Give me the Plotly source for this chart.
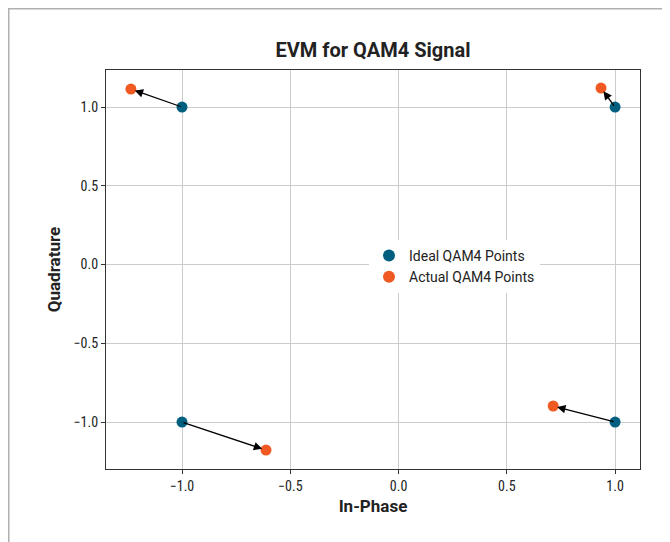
import plotly.graph_objects as go

ideal_i = [1.0, -1.0, -1.0, 1.0]
ideal_q = [1.0, 1.0, -1.0, -1.0]
actual_i = [0.935, -1.236, -0.612, 0.714]
actual_q = [1.12, 1.114, -1.178, -0.898]

title = "EVM for QAM4 Signal"
x_label = "In-Phase"
y_label = "Quadrature"
x_ticks = [-1.0, -0.5, 0.0, 0.5, 1.0]
y_ticks = [-1.0, -0.5, 0.0, 0.5, 1.0]

W, H = 670, 542
L, R, T, B = 98, 38, 62, 81
pw, ph = W - L - R, H - T - B

fig = go.Figure()
fig.add_trace(go.Scatter(x=ideal_i, y=ideal_q, mode="markers", name="Ideal QAM4 Points",
                         marker=dict(color="#005f7f", size=11)))
fig.add_trace(go.Scatter(x=actual_i, y=actual_q, mode="markers", name="Actual QAM4 Points",
                         marker=dict(color="#f05a22", size=11)))

annotations = []
for xi, yi, xa, ya in zip(ideal_i, ideal_q, actual_i, actual_q):
    annotations.append(dict(x=xa, y=ya, ax=xi, ay=yi, xref="x", yref="y", axref="x", ayref="y",
                            showarrow=True, arrowhead=2, arrowsize=1.3, arrowwidth=1.3,
                            arrowcolor="black", standoff=4, text=""))

def px(x):
    return (x - L) / pw

def py(y):
    return (H - B - y) / ph

shapes = [
    dict(type="line", xref="paper", yref="paper", x0=px(0), x1=px(W), y0=py(0.75), y1=py(0.75),
         line=dict(color="#b0b0b0", width=1.5)),
    dict(type="line", xref="paper", yref="paper", x0=px(0.75), x1=px(0.75), y0=py(0), y1=py(H),
         line=dict(color="#b0b0b0", width=1.5)),
]

fmt = lambda v: f"{v:.1f}".replace("-", "\u2212")

fig.update_layout(
    width=W, height=H,
    margin=dict(l=L, r=R, t=T, b=B),
    paper_bgcolor="white", plot_bgcolor="white",
    font=dict(family="Roboto Condensed, Roboto, sans-serif", size=14, color="#222"),
    title=dict(text="<b>" + title + "</b>", x=0.5, xref="paper", xanchor="center",
               y=1 - 42 / H, yanchor="middle",
               font=dict(family="Roboto, sans-serif", size=20, color="#222")),
    xaxis=dict(range=[-1.351, 1.115], tickvals=x_ticks, ticktext=[fmt(v) for v in x_ticks],
               showgrid=True, gridcolor="#cccccc", gridwidth=1, zeroline=False,
               showline=True, linecolor="#333", linewidth=1.2, mirror=True,
               ticks="outside", ticklen=4, tickcolor="#333",
               title=dict(text="<b>" + x_label + "</b>",
                          font=dict(family="Roboto, sans-serif", size=17), standoff=7)),
    yaxis=dict(range=[-1.298, 1.235], tickvals=y_ticks, ticktext=[fmt(v) for v in y_ticks],
               showgrid=True, gridcolor="#cccccc", gridwidth=1, zeroline=False,
               showline=True, linecolor="#333", linewidth=1.2, mirror=True,
               ticks="outside", ticklen=4, tickcolor="#333",
               title=dict(text="<b>" + y_label + "</b>",
                          font=dict(family="Roboto, sans-serif", size=17), standoff=8)),
    legend=dict(x=px(361), y=py(232), xanchor="left", yanchor="top",
                bgcolor="white", borderwidth=0, tracegroupgap=0,
                font=dict(family="Roboto, sans-serif", size=14), itemsizing="constant"),
    annotations=annotations,
    shapes=shapes,
)

fig.write_html("out.html")
